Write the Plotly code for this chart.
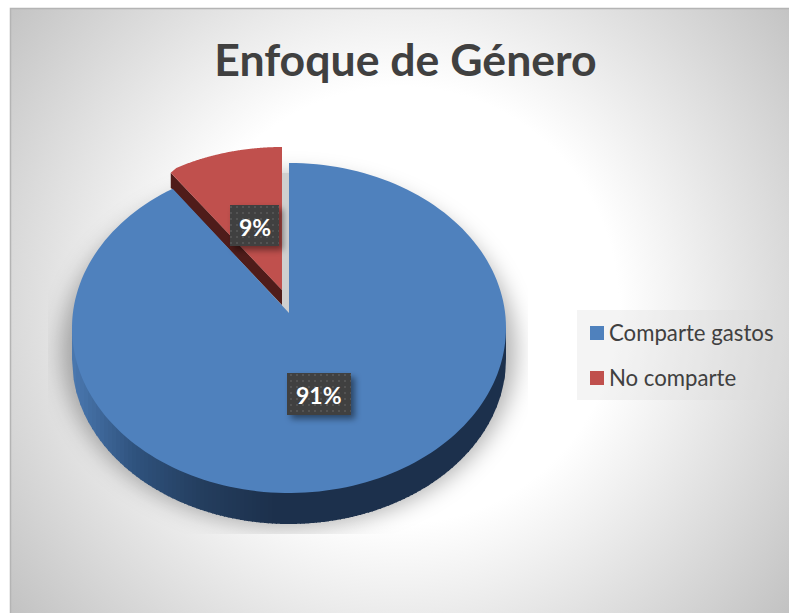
#!/usr/bin/env python3
import base64
import numpy as np
import plotly.graph_objects as go

TITLE = 'Enfoque de Género'
CATEGORIES = ['Comparte gastos', 'No comparte']
SHARES = [91, 9]
LABELS = ['91%', '9%']
COLORS = ['#4f81bd', '#c0504d']

W, H = 789, 613
CX, CY, RX, RY = 289, 328, 217, 165
DEPTH = 31


def svg_uri(body):
    svg = f'<svg xmlns="http://www.w3.org/2000/svg" width="{W}" height="{H}" viewBox="0 0 {W} {H}">{body}</svg>'
    return 'data:image/svg+xml;base64,' + base64.b64encode(svg.encode()).decode()


def arc(start, end, dx=0, dy=0):
    t = np.radians(np.linspace(start, end, 180))
    return CX + dx + RX * np.sin(t), CY + dy - RY * np.cos(t)


def poly(fig, x, y, color):
    fig.add_trace(go.Scatter(x=list(x), y=list(y), mode='none', fill='toself',
                             fillcolor=color, hoverinfo='skip', showlegend=False))


def side_color(x):
    # side of the pie goes dark quickly from the left edge
    stops_x = [72, 135, 200, 275, 510]
    r = np.interp(x, stops_x, [74, 47, 36, 28, 28])
    g = np.interp(x, stops_x, [120, 82, 62, 48, 48])
    b = np.interp(x, stops_x, [176, 125, 95, 76, 76])
    return f'rgb({r:.0f},{g:.0f},{b:.0f})'


background = svg_uri(f'''
<defs>
<radialGradient id="bg" gradientUnits="userSpaceOnUse" cx="400" cy="305" r="520">
<stop offset="0" stop-color="#ffffff"/><stop offset="0.42" stop-color="#ffffff"/>
<stop offset="1" stop-color="#bdbdbd"/></radialGradient>
<filter id="blur" x="-20%" y="-20%" width="140%" height="140%"><feGaussianBlur stdDeviation="11"/></filter>
<clipPath id="clip"><rect x="48" y="130" width="480" height="404"/></clipPath>
</defs>
<rect width="{W}" height="{H}" fill="#ffffff"/>
<rect x="10" y="8" width="{W}" height="{H}" fill="url(#bg)"/>
<path d="M10.5 {H} V8.5 H{W}" fill="none" stroke="#b4b4b4" stroke-width="1.5"/>
<rect x="577" y="310" width="209" height="90" fill="#d9d9d9" fill-opacity="0.3"/>
<g clip-path="url(#clip)"><ellipse cx="{CX}" cy="351" rx="227" ry="176" fill="#000" fill-opacity="0.3" filter="url(#blur)"/></g>
<rect x="282" y="173" width="7" height="140" fill="#cfcfcf"/>
''')

label_boxes = svg_uri('''
<defs>
<pattern id="dots" width="6" height="6" patternUnits="userSpaceOnUse">
<rect width="6" height="6" fill="#404040"/><rect x="2" y="2" width="2" height="2" fill="#535353"/></pattern>
<filter id="sh" x="-30%" y="-30%" width="160%" height="160%"><feGaussianBlur stdDeviation="3"/></filter>
</defs>
<rect x="234" y="209" width="49" height="41" fill="#000" fill-opacity="0.45" filter="url(#sh)"/>
<rect x="230" y="205" width="49" height="41" fill="url(#dots)"/>
<rect x="291" y="377" width="64" height="42" fill="#000" fill-opacity="0.45" filter="url(#sh)"/>
<rect x="287" y="373" width="64" height="42" fill="url(#dots)"/>
''')

fig = go.Figure()

# side wall, drawn in narrow strips for the gradient
strip_edges = np.arange(72, 507, 4)
for x0 in strip_edges:
    xs = np.linspace(x0, min(x0 + 5, CX + RX), 4)
    low = CY + DEPTH + RY * np.sqrt(np.clip(1 - ((xs - CX) / RX) ** 2, 0, 1))
    poly(fig, list(xs) + [xs[-1], xs[0]], list(low) + [CY, CY], side_color(x0 + 2))

angle = SHARES[0] / sum(SHARES) * 360

# pulled out slice
red_x, red_y = arc(angle, 360, dx=-7, dy=-16)
poly(fig, [red_x[0] + 5, 282, 282, red_x[0] + 5], [red_y[0], 290, 305, red_y[0] + 15], '#4f1c1a')
poly(fig, [red_x[0] + 5] + list(red_x[18:]) + [282], [red_y[0]] + list(red_y[18:]) + [290], COLORS[1])

# main slice
blue_x, blue_y = arc(0, angle)
poly(fig, list(blue_x) + [CX], list(blue_y) + [313], COLORS[0])

# legend swatches
fig.add_trace(go.Scatter(x=[597, 597], y=[333, 378], mode='markers', hoverinfo='skip', showlegend=False,
                         marker=dict(symbol='square', size=14, color=COLORS)))

annotations = [
    dict(x=255, y=226.5, text=LABELS[1], font=dict(size=23, color='#ffffff', family='Lato', weight='bold')),
    dict(x=319, y=394.5, text=LABELS[0], font=dict(size=23, color='#ffffff', family='Lato', weight='bold')),
]
for name, y in zip(CATEGORIES, [333, 378]):
    annotations.append(dict(x=607, y=y - 1, text=name, xanchor='left',
                            font=dict(size=22.2, color='#404040', family='Lato')))
for a in annotations:
    a.update(xref='x', yref='y', showarrow=False)

fig.update_layout(
    width=W, height=H, margin=dict(l=0, r=0, t=0, b=0), showlegend=False,
    paper_bgcolor='#ffffff', plot_bgcolor='rgba(0,0,0,0)',
    title=dict(text=TITLE, x=405.5 / W, y=1 - 60 / H, xanchor='center', yanchor='middle',
               font=dict(size=44.6, color='#404040', family='Lato', weight='bold')),
    xaxis=dict(range=[0, W], visible=False, fixedrange=True),
    yaxis=dict(range=[H, 0], visible=False, fixedrange=True),
    annotations=annotations,
    images=[
        dict(source=background, xref='x', yref='y', x=0, y=0, sizex=W, sizey=H, sizing='stretch',
             xanchor='left', yanchor='top', layer='below'),
        dict(source=label_boxes, xref='x', yref='y', x=0, y=0, sizex=W, sizey=H, sizing='stretch',
             xanchor='left', yanchor='top', layer='above'),
    ],
)

fig.write_html('out.html', config=dict(displayModeBar=False),
               post_script="document.body.style.margin='0';document.body.style.overflow='hidden';")
